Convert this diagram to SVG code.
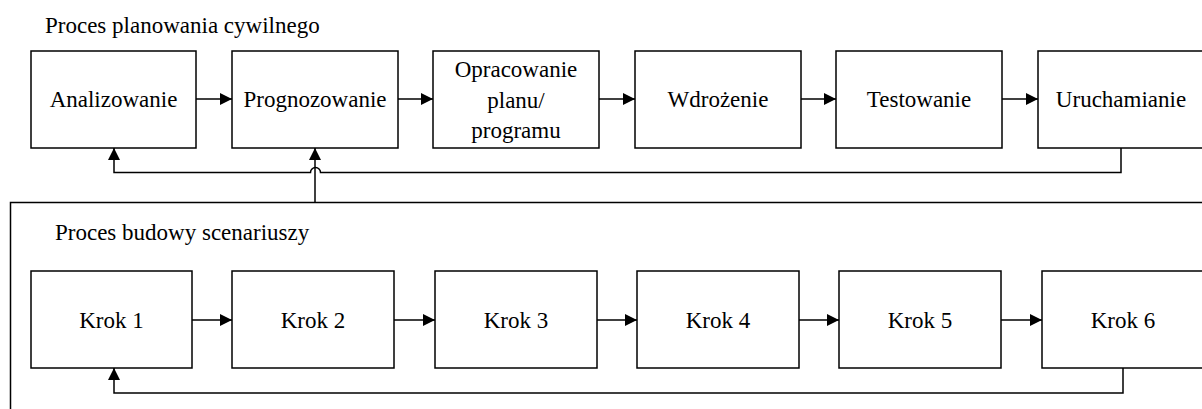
<svg xmlns="http://www.w3.org/2000/svg" width="1202" height="409" viewBox="0 0 1202 409">
<style>
.box{fill:#fff;stroke:#000;stroke-width:1.5}
.c{fill:none;stroke:#000;stroke-width:1.5}
</style>
<defs>
<marker id="ah" viewBox="0 0 12 12" refX="12" refY="6" markerWidth="12" markerHeight="12" markerUnits="userSpaceOnUse" orient="auto">
<path d="M0,0 L12,6 L0,12 Z" fill="#000"/>
</marker>
</defs>
<rect width="1202" height="409" fill="#fff"/>
<g font-family="'Liberation Serif', 'Times New Roman', serif" font-size="23" fill="#000">
<text x="45" y="33">Proces planowania cywilnego</text>
<g id="container">
<path class="c" d="M1210,202.5 H10.5 V420"/>
<text x="55" y="240">Proces budowy scenariuszy</text>
</g>
<g id="connectors">
<path class="c" d="M196,99 H232" marker-end="url(#ah)"/>
<path class="c" d="M398,99 H433" marker-end="url(#ah)"/>
<path class="c" d="M599,99 H635" marker-end="url(#ah)"/>
<path class="c" d="M801,99 H836" marker-end="url(#ah)"/>
<path class="c" d="M1002,99 H1038" marker-end="url(#ah)"/>
<path class="c" d="M1121,148 V172.5 H320.5 A5,5 0 0 0 310.5,172.5 H114 V148" marker-end="url(#ah)"/>
<path class="c" d="M315,202 V148" marker-end="url(#ah)"/>
<path class="c" d="M192,320 H232" marker-end="url(#ah)"/>
<path class="c" d="M394,320 H435" marker-end="url(#ah)"/>
<path class="c" d="M597,320 H637" marker-end="url(#ah)"/>
<path class="c" d="M799,320 H839" marker-end="url(#ah)"/>
<path class="c" d="M1001,320 H1042" marker-end="url(#ah)"/>
<path class="c" d="M1123,368 V393 H114 V368" marker-end="url(#ah)"/>
</g>
<g text-anchor="middle">
<g id="n1"><rect class="box" x="31" y="51" width="165" height="97"/><text x="113.5" y="107">Analizowanie</text></g>
<g id="n2"><rect class="box" x="232" y="51" width="166" height="97"/><text x="315" y="107">Prognozowanie</text></g>
<g id="n3"><rect class="box" x="433" y="51" width="166" height="97"/><text x="516" y="77">Opracowanie</text><text x="516" y="107.5">planu/</text><text x="516" y="138">programu</text></g>
<g id="n4"><rect class="box" x="635" y="51" width="166" height="97"/><text x="718" y="107">Wdrożenie</text></g>
<g id="n5"><rect class="box" x="836" y="51" width="166" height="97"/><text x="919" y="107">Testowanie</text></g>
<g id="n6"><rect class="box" x="1038" y="51" width="166" height="97"/><text x="1121" y="107">Uruchamianie</text></g>
<g id="k1"><rect class="box" x="31" y="271" width="161" height="97"/><text x="111.5" y="328">Krok 1</text></g>
<g id="k2"><rect class="box" x="232" y="271" width="162" height="97"/><text x="313" y="328">Krok 2</text></g>
<g id="k3"><rect class="box" x="435" y="271" width="162" height="97"/><text x="516" y="328">Krok 3</text></g>
<g id="k4"><rect class="box" x="637" y="271" width="162" height="97"/><text x="718" y="328">Krok 4</text></g>
<g id="k5"><rect class="box" x="839" y="271" width="162" height="97"/><text x="920" y="328">Krok 5</text></g>
<g id="k6"><rect class="box" x="1042" y="271" width="162" height="97"/><text x="1123" y="328">Krok 6</text></g>
</g>
</g>
</svg>
